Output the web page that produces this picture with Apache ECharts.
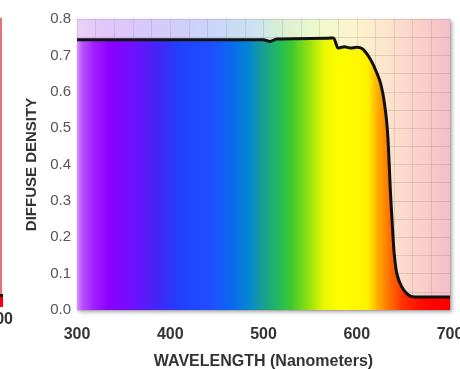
<!DOCTYPE html>
<html>
<head>
<meta charset="utf-8">
<script src="https://cdn.jsdelivr.net/npm/echarts@6/dist/echarts.min.js"></script>
<style>
  html, body { margin: 0; padding: 0; background: #fff; }
  #chart { width: 460px; height: 369px; }
</style>
</head>
<body>
<div id="chart"></div>
<script>
// wavelength (nm) and diffuse density
const wavelength = [300, 500, 507, 514, 568, 575, 580, 587, 593, 600, 606, 612, 617, 621, 625, 628, 630, 632, 633.5, 635, 636, 638, 640, 643, 648, 655, 662, 700];
const density = [0.743, 0.743, 0.738, 0.745, 0.747, 0.748, 0.72, 0.724, 0.72, 0.722, 0.718, 0.7, 0.678, 0.655, 0.628, 0.595, 0.562, 0.52, 0.47, 0.39, 0.33, 0.24, 0.16, 0.1, 0.065, 0.042, 0.036, 0.036];

const xTicks = [300, 400, 500, 600, 700];
const yTicks = [0, 0.1, 0.2, 0.3, 0.4, 0.5, 0.6, 0.7, 0.8];

// spectrum colours (nm -> colour), saturated and washed out
const spectrumStops = [
  [300, '#d690ff'], [306, '#b850ff'], [318, '#a020ff'], [335, '#8c00ff'],
  [360, '#7010ff'], [385, '#4424f6'], [410, '#2040ff'], [445, '#2050ff'],
  [465, '#0a68f0'], [485, '#0488d0'], [500, '#18a090'], [515, '#20b860'],
  [530, '#40c830'], [548, '#90e010'], [565, '#e8f800'], [580, '#ffff00'],
  [612, '#fff200'], [622, '#ffb000'], [635, '#ff7000'], [650, '#ff3000'],
  [670, '#ff0a00'], [700, '#f80000']
];
const paleStops = [
  [300, '#ecd2f8'], [330, '#e2c6fa'], [380, '#d6cafa'], [440, '#cad4fa'],
  [490, '#cae2f0'], [520, '#d8f0d2'], [560, '#f0f8cc'], [600, '#fcf4cc'],
  [640, '#fce0cc'], [680, '#f8c8c8'], [700, '#f4bec8']
];

const toGradient = stops => ({
  type: 'linear', x: 0, y: 0, x2: 1, y2: 0,
  colorStops: stops.map(s => ({ offset: (s[0] - 300) / 400, color: s[1] }))
});

const font = "'Liberation Sans', Arial, sans-serif";
const gridLine = { color: 'rgba(120,90,110,0.18)', width: 1 };

const chart = echarts.init(document.getElementById('chart'));
chart.setOption({
  animation: false,
  grid: {
    left: 77, right: 10, top: 19, bottom: 59,
    outerBoundsMode: 'none',
    show: true,
    borderWidth: 0,
    backgroundColor: toGradient(paleStops),
    shadowColor: 'rgba(0,0,0,0.35)',
    shadowBlur: 4,
    shadowOffsetX: 2,
    shadowOffsetY: 2
  },
  xAxis: {
    type: 'value',
    min: xTicks[0],
    max: xTicks[xTicks.length - 1],
    interval: 100,
    name: 'WAVELENGTH (Nanometers)',
    nameLocation: 'middle',
    nameGap: 44,
    nameTextStyle: { fontFamily: font, fontSize: 16, fontWeight: 'bold', color: '#333' },
    axisLine: { show: false },
    axisTick: { show: false },
    minorTick: { show: false, splitNumber: 5 },
    splitLine: { show: true, lineStyle: gridLine },
    minorSplitLine: { show: true, lineStyle: gridLine },
    axisLabel: { margin: 17, fontFamily: font, fontSize: 16, fontWeight: 'bold', color: '#333' }
  },
  yAxis: {
    type: 'value',
    min: yTicks[0],
    max: yTicks[yTicks.length - 1],
    interval: 0.1,
    name: 'DIFFUSE DENSITY',
    nameLocation: 'middle',
    nameRotate: 90,
    nameGap: 36,
    nameTextStyle: { fontFamily: font, fontSize: 15, fontWeight: 'bold', color: '#333' },
    axisLine: { show: false },
    axisTick: { show: false },
    minorTick: { show: false, splitNumber: 2 },
    splitLine: { show: true, lineStyle: gridLine },
    minorSplitLine: { show: true, lineStyle: gridLine },
    axisLabel: {
      margin: 6, fontFamily: font, fontSize: 15, color: '#555',
      formatter: v => v.toFixed(1)
    }
  },
  series: [{
    type: 'line',
    data: wavelength.map((w, i) => [w, density[i]]),
    symbol: 'none',
    smooth: 0.25,
    lineStyle: { color: '#111', width: 3 },
    areaStyle: { color: toGradient(spectrumStops), opacity: 1 }
  }],
  // edge of the neighbouring chart, cut off at the left of the photo
  graphic: [
    { type: 'rect', left: 0, top: 18, shape: { width: 2, height: 276 }, style: { fill: '#e8707a' } },
    { type: 'rect', left: 0, top: 294, shape: { width: 3, height: 3 }, style: { fill: '#2a0000' } },
    { type: 'rect', left: 0, top: 297, shape: { width: 3, height: 10 }, style: { fill: '#f00010' } },
    { type: 'text', x: 13, y: 320, style: { text: '700', align: 'right', verticalAlign: 'middle', font: "bold 16px 'Liberation Sans', Arial, sans-serif", fill: '#333' } }
  ]
});
</script>
</body>
</html>
